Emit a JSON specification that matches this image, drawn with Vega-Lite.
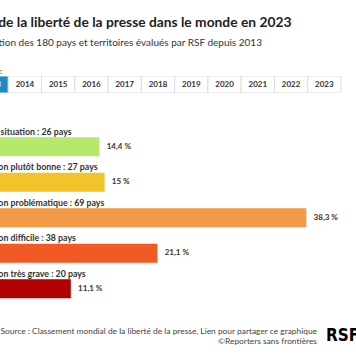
{
  "$schema": "https://vega.github.io/schema/vega-lite/v6.json",
  "padding": 0,
  "background": "white",
  "config": {
    "font": "Lato",
    "view": {"stroke": null}
  },
  "datasets": {
    "header": [
      {"kind": "titre", "texte": "État de la liberté de la presse dans le monde en 2023"},
      {"kind": "soustitre", "texte": "Répartition des 180 pays et territoires évalués par RSF depuis 2013"},
      {"kind": "annee", "texte": "Année :"}
    ],
    "years": [
      {"year": "2013", "selected": true},
      {"year": "2014", "selected": false},
      {"year": "2015", "selected": false},
      {"year": "2016", "selected": false},
      {"year": "2017", "selected": false},
      {"year": "2018", "selected": false},
      {"year": "2019", "selected": false},
      {"year": "2020", "selected": false},
      {"year": "2021", "selected": false},
      {"year": "2022", "selected": false},
      {"year": "2023", "selected": false}
    ],
    "cats": [
      {"categorie": "Bonne situation : 26 pays", "pct": 14.4, "label": "14,4 %"},
      {"categorie": "Situation plutôt bonne : 27 pays", "pct": 15.0, "label": "15 %"},
      {"categorie": "Situation problématique : 69 pays", "pct": 38.3, "label": "38,3 %"},
      {"categorie": "Situation difficile : 38 pays", "pct": 21.1, "label": "21,1 %"},
      {"categorie": "Situation très grave : 20 pays", "pct": 11.1, "label": "11,1 %"}
    ],
    "footer": [
      {"kind": "source", "texte": "Source : Classement mondial de la liberté de la presse, Lien pour partager ce graphique"},
      {"kind": "credit", "texte": "©Reporters sans frontières"}
    ],
    "logo": [{"name": "RSF"}]
  },
  "vconcat": [
    {
      "width": 356,
      "height": 76,
      "data": {"name": "header"},
      "encoding": {
        "x": {"datum": 0, "type": "quantitative", "scale": {"domain": [0, 1], "range": [0, 356]}, "axis": null},
        "text": {"field": "texte"}
      },
      "layer": [
        {
          "transform": [{"filter": "datum.kind === 'titre'"}],
          "mark": {"type": "text", "clip": true, "align": "left", "baseline": "alphabetic", "dx": -30, "dy": -11.5, "fontSize": 13.8, "fontWeight": "bold", "color": "#222222"}
        },
        {
          "transform": [{"filter": "datum.kind === 'soustitre'"}],
          "mark": {"type": "text", "clip": true, "align": "left", "baseline": "alphabetic", "dx": -33, "dy": 8, "fontSize": 10, "color": "#333333"}
        },
        {
          "transform": [{"filter": "datum.kind === 'annee'"}],
          "mark": {"type": "text", "clip": true, "align": "right", "baseline": "alphabetic", "dx": 2, "dy": 36, "fontSize": 8, "fontWeight": "bold", "color": "#333333"}
        }
      ]
    },
    {
      "width": 356,
      "height": 17,
      "data": {"name": "years"},
      "encoding": {
        "x": {"field": "year", "type": "nominal", "sort": null, "scale": {"range": [-25, 341], "paddingInner": 0, "paddingOuter": 0}, "axis": null}
      },
      "layer": [
        {
          "mark": {"type": "rect", "clip": true, "stroke": "#dddddd", "strokeWidth": 1},
          "encoding": {
            "fill": {"field": "selected", "type": "nominal", "scale": {"domain": [true, false], "range": ["#1a8bc9", "#ffffff"]}, "legend": null}
          }
        },
        {
          "mark": {"type": "text", "clip": true, "fontSize": 8, "fontWeight": "bold", "baseline": "middle"},
          "encoding": {
            "text": {"field": "year"},
            "color": {"field": "selected", "type": "nominal", "scale": {"domain": [true, false], "range": ["#ffffff", "#333333"]}, "legend": null}
          }
        }
      ],
      "resolve": {"scale": {"color": "independent", "fill": "independent"}}
    },
    {
      "width": 356,
      "height": 224,
      "data": {"name": "cats"},
      "encoding": {
        "y": {"field": "categorie", "type": "nominal", "sort": null, "scale": {"paddingInner": 0.45, "paddingOuter": 0.88, "align": 0.704}, "axis": null}
      },
      "layer": [
        {
          "mark": {"type": "bar", "clip": true, "stroke": "white", "strokeOpacity": 0.5, "strokeWidth": 1},
          "encoding": {
            "x": {"field": "pct", "type": "quantitative", "scale": {"domain": [0, 39.5], "range": [-25, 317], "nice": false}, "axis": null},
            "color": {"field": "categorie", "type": "nominal", "sort": null, "scale": {"range": ["#b6e86c", "#f2c42c", "#f19b46", "#f15a24", "#b10000"]}, "legend": null}
          }
        },
        {
          "mark": {"type": "text", "clip": true, "align": "left", "baseline": "alphabetic", "dy": -12, "dx": -2, "fontSize": 8.8, "fontWeight": "bold", "color": "#333333"},
          "encoding": {
            "x": {"datum": 0, "type": "quantitative"},
            "text": {"field": "categorie"}
          }
        },
        {
          "mark": {"type": "text", "clip": true, "align": "left", "baseline": "middle", "dx": 7, "fontSize": 8, "fontWeight": "bold", "color": "#333333"},
          "encoding": {
            "x": {"field": "pct", "type": "quantitative"},
            "text": {"field": "label"}
          }
        }
      ]
    },
    {
      "hconcat": [
        {
          "width": 317,
          "height": 32,
          "data": {"name": "footer"},
          "encoding": {
            "x": {"datum": 1, "type": "quantitative", "scale": {"domain": [0, 1], "range": [0, 317]}, "axis": null},
            "text": {"field": "texte"}
          },
          "layer": [
            {
              "transform": [{"filter": "datum.kind === 'source'"}],
              "mark": {"type": "text", "clip": true, "align": "right", "baseline": "alphabetic", "dy": 1, "fontSize": 8.4, "color": "#444444"}
            },
            {
              "transform": [{"filter": "datum.kind === 'credit'"}],
              "mark": {"type": "text", "clip": true, "align": "right", "baseline": "alphabetic", "dy": 11, "fontSize": 8.4, "color": "#444444"}
            }
          ]
        },
        {
          "width": 31,
          "height": 32,
          "data": {"name": "logo"},
          "mark": {"type": "text", "font": "'Liberation Sans Narrow', 'DejaVu Sans Condensed', 'DejaVu Sans', sans-serif", "fontSize": 17, "fontWeight": "bold", "baseline": "middle", "align": "center", "color": "#000000", "dy": 2.5},
          "encoding": {"text": {"field": "name"}}
        }
      ],
      "spacing": 8
    }
  ],
  "spacing": 0
}
